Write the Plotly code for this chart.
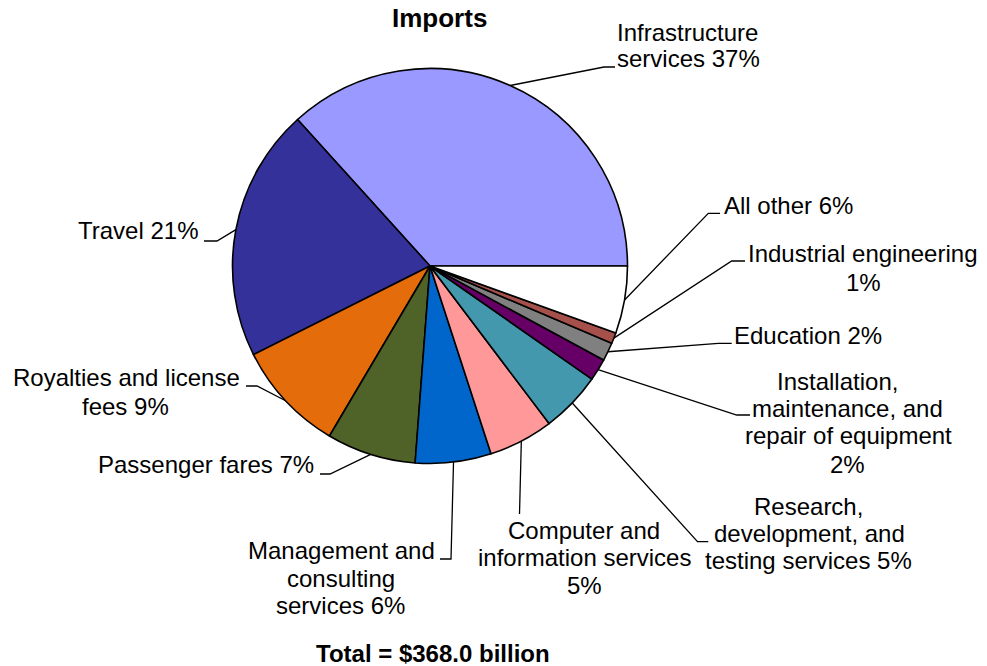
import math
import plotly.graph_objects as go

# ---------------- data ----------------
categories = [
    "Infrastructure services", "Travel", "Royalties and license fees",
    "Passenger fares", "Management and consulting services",
    "Computer and information services",
    "Research, development, and testing services",
    "Installation, maintenance, and repair of equipment",
    "Education", "Industrial engineering", "All other",
]
share_pct = [36.7, 20.7, 9.1, 7.3, 6.2, 5.3, 5.0, 1.8, 1.5, 0.9, 5.5]
label_lines = [
    ["Infrastructure", "services 37%"],
    ["Travel 21%"],
    ["Royalties and license", "fees 9%"],
    ["Passenger fares 7%"],
    ["Management and", "consulting", "services 6%"],
    ["Computer and", "information services", "5%"],
    ["Research,", "development, and", "testing services 5%"],
    ["Installation,", "maintenance, and", "repair of equipment", "2%"],
    ["Education 2%"],
    ["Industrial engineering", "1%"],
    ["All other 6%"],
]
title_text = "Imports"
total_text = "Total = $368.0 billion"

# ---------------- style / layout ----------------
W, H = 987, 666
CX, CY, R = 430, 266, 197.5
colors = ["#9999FF", "#35319A", "#E46C0A", "#4F6228", "#0066CC", "#FF9999",
          "#4398AE", "#660066", "#808080", "#A6504B", "#FFFFFF"]
FONT = "Liberation Sans, Arial, sans-serif"
# per label: line centres (px), leader bend point, leader end point
label_pos = [
    dict(lines=[(687, 32.5), (688.5, 58)], bend=(604, 67), end=(615, 67)),
    dict(lines=[(138, 230.5)], bend=(217, 241), end=(204, 241)),
    dict(lines=[(126.5, 377.5), (125, 406)], bend=(257, 386), end=(246, 386)),
    dict(lines=[(205.5, 464.7)], bend=(330, 474), end=(320, 474)),
    dict(lines=[(341, 550.5), (341, 578), (340, 605)], bend=(451, 559), end=(440, 559)),
    dict(lines=[(584, 530), (584.5, 557.5), (584, 585.5)], bend=(519.5, 514), end=None),
    dict(lines=[(808, 506), (809, 533.5), (808, 560)], bend=(697.5, 541.7), end=(708.3, 541.7)),
    dict(lines=[(837.5, 381.7), (847.5, 408.5), (848, 435.5), (847.5, 464)], bend=(736.7, 415), end=(750, 415)),
    dict(lines=[(808, 335)], bend=(718.3, 343.3), end=(731.7, 343.3)),
    dict(lines=[(863.3, 253), (863, 282)], bend=(731.7, 261), end=(745, 261)),
    dict(lines=[(788.3, 205.8)], bend=(708.3, 213.3), end=(720, 213.3)),
]

total = sum(share_pct)
# first slice runs counter-clockwise from 3 o'clock
rotation = 90 - 360 * share_pct[0] / total

fig = go.Figure()

fig.add_trace(go.Pie(
    labels=categories, values=share_pct, sort=False,
    direction="counterclockwise", rotation=rotation,
    marker=dict(colors=colors, line=dict(color="#000000", width=1.6)),
    textinfo="none", hoverinfo="label+percent", showlegend=False,
    domain=dict(x=[(CX - R) / W, (CX + R) / W],
                y=[(H - CY - R) / H, (H - CY + R) / H]),
))

# leader lines: start at slice mid-angle on the rim
cum = 0.0
for v, pos in zip(share_pct, label_pos):
    mid = (cum + v / 2) / total * 2 * math.pi
    cum += v
    sx = CX + R * math.cos(mid)
    sy = CY - R * math.sin(mid)
    xs = [sx, pos["bend"][0]]
    ys = [sy, pos["bend"][1]]
    if pos["end"] is not None:
        xs.append(pos["end"][0])
        ys.append(pos["end"][1])
    fig.add_trace(go.Scatter(x=xs, y=ys, mode="lines",
                             line=dict(color="#000000", width=1.3),
                             hoverinfo="skip", showlegend=False))

annotations = []
for lines, pos in zip(label_lines, label_pos):
    for txt, (lx, ly) in zip(lines, pos["lines"]):
        annotations.append(dict(
            x=lx, y=ly, xref="x", yref="y", text=txt, showarrow=False,
            xanchor="center", yanchor="middle",
            font=dict(family=FONT, size=24, color="#000000")))
annotations.append(dict(x=439, y=18, xref="x", yref="y", text="<b>%s</b>" % title_text,
                        showarrow=False, xanchor="center", yanchor="middle",
                        font=dict(family=FONT, size=26, color="#000000")))
annotations.append(dict(x=432.5, y=653, xref="x", yref="y", text="<b>%s</b>" % total_text,
                        showarrow=False, xanchor="center", yanchor="middle",
                        font=dict(family=FONT, size=24, color="#000000")))

fig.update_layout(
    width=W, height=H, margin=dict(l=0, r=0, t=0, b=0),
    paper_bgcolor="#FFFFFF", plot_bgcolor="rgba(0,0,0,0)",
    xaxis=dict(range=[0, W], visible=False, domain=[0, 1], fixedrange=True),
    yaxis=dict(range=[H, 0], visible=False, domain=[0, 1], fixedrange=True),
    annotations=annotations, showlegend=False,
)

fig.write_html("out.html", config={"displayModeBar": False},
               post_script="document.body.style.margin='0';document.body.style.overflow='hidden';")
